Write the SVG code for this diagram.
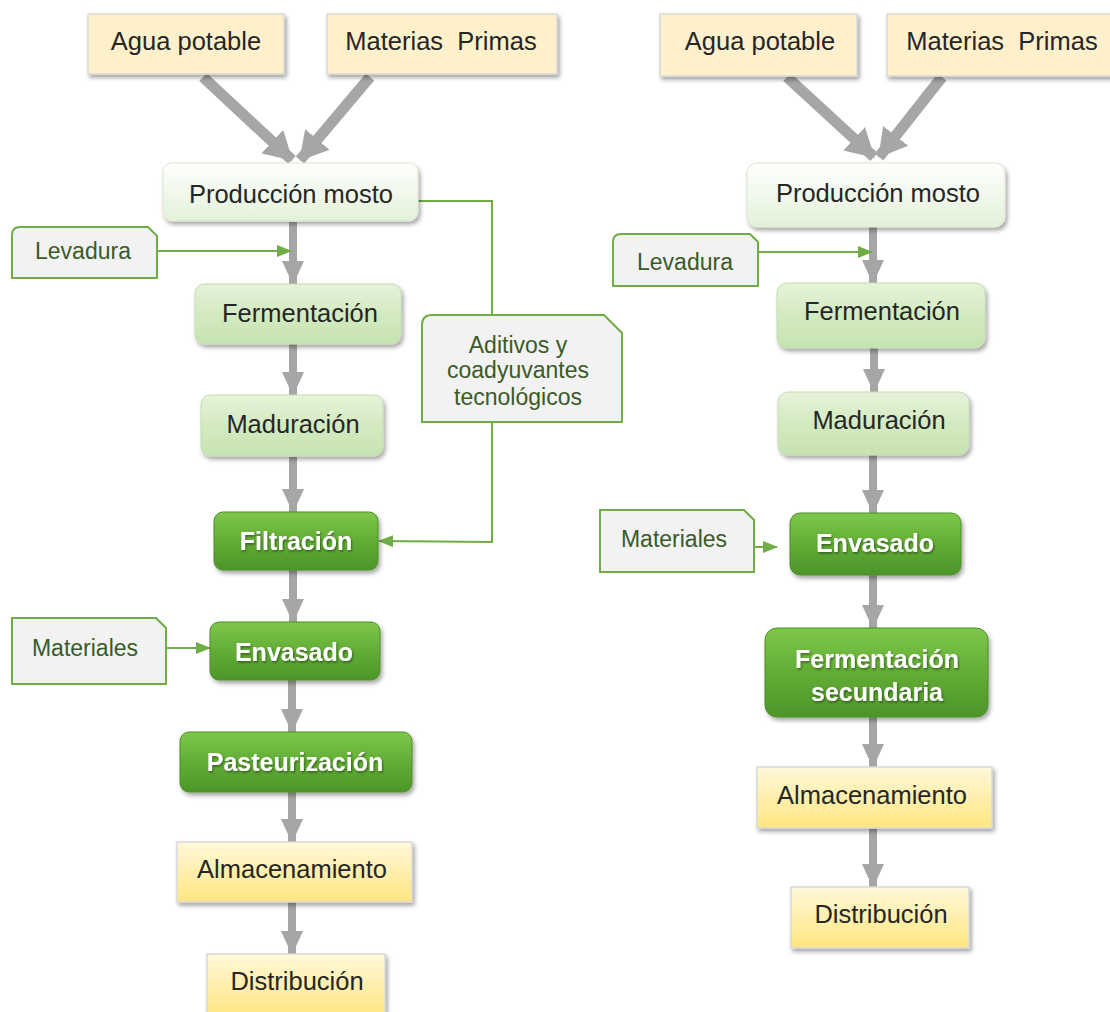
<svg xmlns="http://www.w3.org/2000/svg" width="1110" height="1012" viewBox="0 0 1110 1012">
<defs>
<filter id="sh" x="-10%" y="-10%" width="125%" height="135%">
<feDropShadow dx="2" dy="3" stdDeviation="2" flood-color="#000" flood-opacity="0.35"/>
</filter>
<filter id="tsh" x="-5%" y="-20%" width="110%" height="150%">
<feDropShadow dx="1" dy="1.5" stdDeviation="0.8" flood-color="#000" flood-opacity="0.45"/>
</filter>
<linearGradient id="gProd" x1="0" y1="0" x2="0" y2="1">
<stop offset="0" stop-color="#ffffff"/><stop offset="1" stop-color="#e3f1d8"/>
</linearGradient>
<linearGradient id="gLight" x1="0" y1="0" x2="0" y2="1">
<stop offset="0" stop-color="#e6f3db"/><stop offset="0.5" stop-color="#d3eac1"/><stop offset="1" stop-color="#c7e3b1"/>
</linearGradient>
<linearGradient id="gDark" x1="0" y1="0" x2="0" y2="1">
<stop offset="0" stop-color="#7fc74c"/><stop offset="0.5" stop-color="#62ad35"/><stop offset="1" stop-color="#4d952a"/>
</linearGradient>
<linearGradient id="gYel" x1="0" y1="0" x2="0" y2="1">
<stop offset="0" stop-color="#fff8da"/><stop offset="1" stop-color="#ffe680"/>
</linearGradient>
<marker id="ag" viewBox="0 0 24 22" refX="23" refY="11" markerWidth="24" markerHeight="22" markerUnits="userSpaceOnUse" orient="auto">
<path d="M0,0 L24,11 L0,22 Z" fill="#a6a6a6"/>
</marker>
<marker id="agd" viewBox="0 0 28 32" refX="27" refY="16" markerWidth="28" markerHeight="32" markerUnits="userSpaceOnUse" orient="auto">
<path d="M0,0 L28,16 L0,32 Z" fill="#a6a6a6"/>
</marker>
<marker id="gr" viewBox="0 0 15 12" refX="14" refY="6" markerWidth="15" markerHeight="12" markerUnits="userSpaceOnUse" orient="auto">
<path d="M0,0 L15,6 L0,12 Z" fill="#70ad47"/>
</marker>
<style>
.t{font-family:"Liberation Sans",Arial,sans-serif;font-size:25.5px;fill:#262626;text-anchor:middle;white-space:pre}
.tb{font-family:"Liberation Sans",Arial,sans-serif;font-size:25px;font-weight:bold;fill:#ffffff;text-anchor:middle}
.ts{font-family:"Liberation Sans",Arial,sans-serif;font-size:23px;fill:#3a5a26;text-anchor:middle}
.peach{fill:#fff0cc;stroke:#d9d9d9;stroke-width:1.5}
.prod{fill:url(#gProd);stroke:#dde6d5;stroke-width:1}
.light{fill:url(#gLight);stroke:#c6dcb4;stroke-width:1}
.dark{fill:url(#gDark);stroke:#4a8f27;stroke-width:1}
.yel{fill:url(#gYel);stroke:#d9d9d9;stroke-width:1.5}
.side{fill:#f2f2f2;stroke:#70ad47;stroke-width:2}
.gline{fill:none;stroke:#70ad47;stroke-width:2}
.garrow{fill:none;stroke:#a6a6a6;stroke-width:8}
.gdiag{fill:none;stroke:#a6a6a6;stroke-width:11}
</style>
</defs>
<rect width="1110" height="1012" fill="#ffffff"/>

<!-- connectors -->
<g id="connectors">
<line class="gdiag" x1="203" y1="77" x2="292" y2="160" marker-end="url(#agd)"/>
<line class="gdiag" x1="370" y1="77" x2="300" y2="160" marker-end="url(#agd)"/>
<line class="gdiag" x1="787" y1="77" x2="874" y2="157" marker-end="url(#agd)"/>
<line class="gdiag" x1="942" y1="77" x2="879" y2="157" marker-end="url(#agd)"/>

<line class="garrow" x1="293" y1="222" x2="293" y2="284" marker-end="url(#ag)"/>
<line class="garrow" x1="293" y1="344" x2="293" y2="395" marker-end="url(#ag)"/>
<line class="garrow" x1="293" y1="457" x2="293" y2="512" marker-end="url(#ag)"/>
<line class="garrow" x1="293" y1="570" x2="293" y2="622" marker-end="url(#ag)"/>
<line class="garrow" x1="292" y1="680" x2="292" y2="732" marker-end="url(#ag)"/>
<line class="garrow" x1="292" y1="792" x2="292" y2="842" marker-end="url(#ag)"/>
<line class="garrow" x1="292" y1="902" x2="292" y2="954" marker-end="url(#ag)"/>

<line class="garrow" x1="873" y1="227" x2="873" y2="283" marker-end="url(#ag)"/>
<line class="garrow" x1="874" y1="348" x2="874" y2="392" marker-end="url(#ag)"/>
<line class="garrow" x1="873" y1="455" x2="873" y2="513" marker-end="url(#ag)"/>
<line class="garrow" x1="873" y1="575" x2="873" y2="628" marker-end="url(#ag)"/>
<line class="garrow" x1="873" y1="717" x2="873" y2="767" marker-end="url(#ag)"/>
<line class="garrow" x1="873" y1="828" x2="873" y2="887" marker-end="url(#ag)"/>

<line class="gline" x1="157" y1="251" x2="291" y2="251" marker-end="url(#gr)"/>
<line class="gline" x1="166" y1="648" x2="210" y2="648" marker-end="url(#gr)"/>
<line class="gline" x1="758" y1="252" x2="872" y2="252" marker-end="url(#gr)"/>
<line class="gline" x1="754" y1="547" x2="777" y2="547" marker-end="url(#gr)"/>
<polyline class="gline" points="418,201 492,201 492,315"/>
<polyline class="gline" points="492,422 492,542 379,541" marker-end="url(#gr)"/>
</g>

<!-- left column -->
<g id="n-agua-l"><rect class="peach" x="88" y="14" width="196" height="60" filter="url(#sh)"/><text class="t" x="186" y="50">Agua potable</text></g>
<g id="n-mat-l"><rect class="peach" x="327" y="14" width="230" height="60" filter="url(#sh)"/><text class="t" x="441" y="50" xml:space="preserve">Materias  Primas</text></g>
<g id="n-prod-l"><rect class="prod" x="163" y="163" width="255" height="58" rx="9" filter="url(#sh)"/><text class="t" x="291" y="203" fill="#111">Producción mosto</text></g>
<g id="n-lev-l"><path class="side" d="M20,227 H148 L157,236 V278 H12 V235 Q12,227 20,227 Z"/><text class="ts" x="83" y="259">Levadura</text></g>
<g id="n-ferm-l"><rect class="light" x="195" y="284" width="206" height="60" rx="9" filter="url(#sh)"/><text class="t" x="300" y="322">Fermentación</text></g>
<g id="n-mad-l"><rect class="light" x="201" y="395" width="182" height="61" rx="9" filter="url(#sh)"/><text class="t" x="293" y="433">Maduración</text></g>
<g id="n-adit"><path class="side" d="M432,315 H604 L622,333 V422 H422 V325 Q422,315 432,315 Z"/>
<text class="ts" x="518" y="353">Aditivos y</text><text class="ts" x="518" y="378">coadyuvantes</text><text class="ts" x="518" y="405">tecnológicos</text></g>
<g id="n-filt"><rect class="dark" x="214" y="512" width="164" height="58" rx="9" filter="url(#sh)"/><text class="tb" x="296" y="550" filter="url(#tsh)">Filtración</text></g>
<g id="n-mat2-l"><path class="side" d="M12,618 H156 L166,628 V684 H12 Z"/><text class="ts" x="85" y="656">Materiales</text></g>
<g id="n-env-l"><rect class="dark" x="210" y="622" width="170" height="58" rx="9" filter="url(#sh)"/><text class="tb" x="294" y="661" filter="url(#tsh)">Envasado</text></g>
<g id="n-past"><rect class="dark" x="180" y="732" width="232" height="60" rx="9" filter="url(#sh)"/><text class="tb" x="295" y="771" filter="url(#tsh)">Pasteurización</text></g>
<g id="n-alm-l"><rect class="yel" x="177" y="842" width="235" height="60" filter="url(#sh)"/><text class="t" x="292" y="878">Almacenamiento</text></g>
<g id="n-dist-l"><rect class="yel" x="207" y="954" width="178" height="62" filter="url(#sh)"/><text class="t" x="297" y="990">Distribución</text></g>

<!-- right column -->
<g id="n-agua-r"><rect class="peach" x="660" y="14" width="197" height="62" filter="url(#sh)"/><text class="t" x="760" y="50">Agua potable</text></g>
<g id="n-mat-r"><rect class="peach" x="887" y="14" width="226" height="62" filter="url(#sh)"/><text class="t" x="1002" y="50" xml:space="preserve">Materias  Primas</text></g>
<g id="n-prod-r"><rect class="prod" x="747" y="163" width="258" height="64" rx="10" filter="url(#sh)"/><text class="t" x="878" y="202" fill="#111">Producción mosto</text></g>
<g id="n-lev-r"><path class="side" d="M621,234 H750 L758,242 V286 H613 V242 Q613,234 621,234 Z"/><text class="ts" x="685" y="270">Levadura</text></g>
<g id="n-ferm-r"><rect class="light" x="777" y="283" width="208" height="65" rx="10" filter="url(#sh)"/><text class="t" x="882" y="320">Fermentación</text></g>
<g id="n-mad-r"><rect class="light" x="778" y="392" width="191" height="63" rx="10" filter="url(#sh)"/><text class="t" x="879" y="429">Maduración</text></g>
<g id="n-mat2-r"><path class="side" d="M600,510 H744 L754,520 V572 H600 Z"/><text class="ts" x="674" y="547">Materiales</text></g>
<g id="n-env-r"><rect class="dark" x="790" y="513" width="171" height="62" rx="10" filter="url(#sh)"/><text class="tb" x="875" y="552" filter="url(#tsh)">Envasado</text></g>
<g id="n-fsec"><rect class="dark" x="765" y="628" width="223" height="89" rx="12" filter="url(#sh)"/><text class="tb" x="877" y="668" filter="url(#tsh)">Fermentación</text><text class="tb" x="877" y="701" filter="url(#tsh)">secundaria</text></g>
<g id="n-alm-r"><rect class="yel" x="757" y="767" width="235" height="61" filter="url(#sh)"/><text class="t" x="872" y="804">Almacenamiento</text></g>
<g id="n-dist-r"><rect class="yel" x="791" y="887" width="178" height="61" filter="url(#sh)"/><text class="t" x="881" y="923">Distribución</text></g>
</svg>
